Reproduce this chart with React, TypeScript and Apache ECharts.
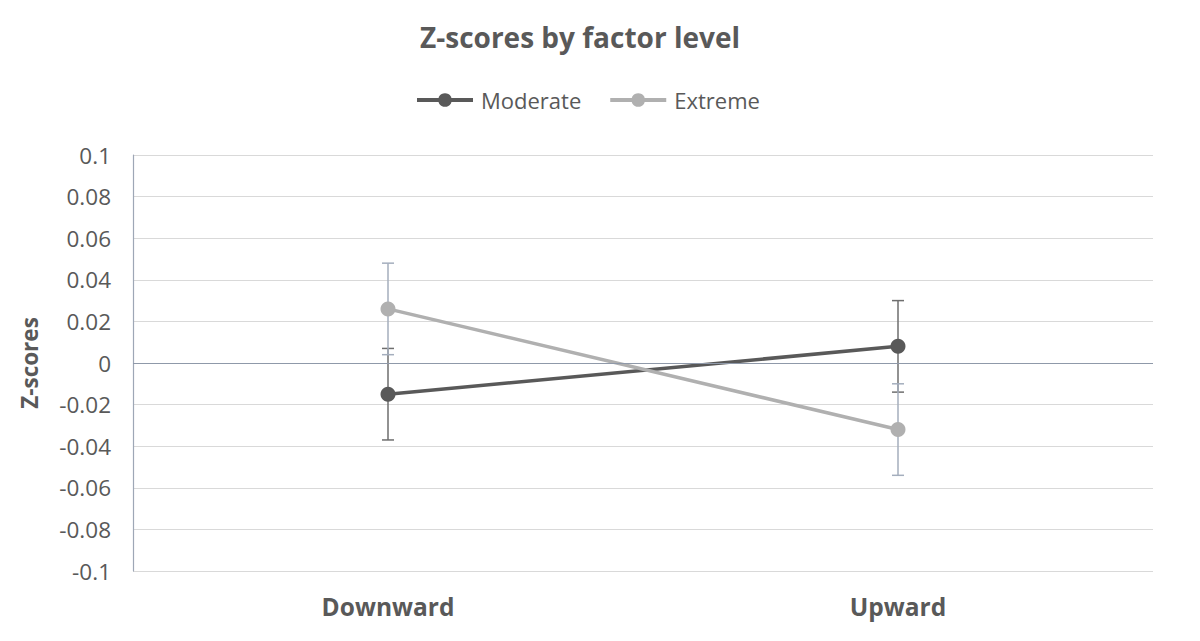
import React, { useEffect, useRef } from "react";
import * as echarts from "echarts";

const categories = ["Downward", "Upward"];
const moderate = [-0.015, 0.008];
const moderateErr = [0.022, 0.022];
const extreme = [0.026, -0.032];
const extremeErr = [0.022, 0.022];
const yTicks = { min: -0.1, max: 0.1, interval: 0.02 };

const FONT = "'Open Sans', Lato, sans-serif";
const TEXT = "#595959";

function errorSeries(name: string, means: number[], errs: number[], color: string) {
  return {
    type: "custom",
    name: name + " err",
    silent: true,
    z: 1,
    data: means.map((m, i) => [i, m - errs[i], m + errs[i]]),
    renderItem: (params: any, api: any) => {
      const x = api.value(0);
      const lo = api.coord([x, api.value(1)]);
      const hi = api.coord([x, api.value(2)]);
      const cap = 6;
      const style = { stroke: color, lineWidth: 1.5 };
      return {
        type: "group",
        children: [
          { type: "line", shape: { x1: lo[0], y1: lo[1], x2: hi[0], y2: hi[1] }, style },
          { type: "line", shape: { x1: lo[0] - cap, y1: lo[1], x2: lo[0] + cap, y2: lo[1] }, style },
          { type: "line", shape: { x1: hi[0] - cap, y1: hi[1], x2: hi[0] + cap, y2: hi[1] }, style },
        ],
      };
    },
  };
}

export default function App() {
  const ref = useRef<HTMLDivElement>(null);
  useEffect(() => {
    if (!ref.current) return;
    const chart = echarts.init(ref.current, undefined, { renderer: "svg" });
    chart.setOption({
      animation: false,
      textStyle: { fontFamily: FONT },
      graphic: [
        {
          type: "text",
          x: 572,
          y: 15,
          style: {
            text: "Z-scores by factor level",
            fontFamily: FONT,
            fontSize: 28,
            fontWeight: "bold",
            fill: TEXT,
            textAlign: "center",
          },
        },
      ],
      legend: {
        top: 76,
        left: 402,
        itemWidth: 56,
        itemHeight: 17,
        itemGap: 27,
        textStyle: { fontSize: 22, color: TEXT, fontFamily: FONT, padding: [0, 0, 0, 3] },
        lineStyle: { width: 4 },
        data: ["Moderate", "Extreme"],
      },
      grid: { left: 125, right: 39, top: 147, bottom: 62 },
      xAxis: {
        type: "category",
        data: categories,
        boundaryGap: true,
        axisLine: { show: false },
        axisTick: { show: false },
        axisLabel: { fontSize: 24.5, fontWeight: "bold", color: TEXT, margin: 23, fontFamily: FONT },
      },
      yAxis: {
        type: "value",
        min: yTicks.min,
        max: yTicks.max,
        interval: yTicks.interval,
        name: "Z-scores",
        nameLocation: "middle",
        nameGap: 92,
        nameTextStyle: { fontSize: 22.5, fontWeight: "bold", color: TEXT, fontFamily: FONT },
        axisLine: { show: true, lineStyle: { color: "#9ea7b6", width: 1.2 } },
        axisTick: { show: false },
        axisLabel: {
          fontSize: 22.5,
          color: TEXT,
          margin: 22,
          fontFamily: FONT,
          formatter: (v: number) => String(Math.round(v * 100) / 100),
        },
        splitLine: { lineStyle: { color: "#d9d9d9", width: 1.2 } },
      },
      series: [
        errorSeries("Moderate", moderate, moderateErr, "#6e6e6e"),
        errorSeries("Extreme", extreme, extremeErr, "#a4aebd"),
        {
          name: "Moderate",
          type: "line",
          data: moderate,
          z: 3,
          symbol: "circle",
          symbolSize: 15,
          lineStyle: { color: "#595959", width: 3.5 },
          itemStyle: { color: "#595959" },
          markLine: {
            silent: true,
            symbol: "none",
            label: { show: false },
            lineStyle: { color: "#8f99a9", width: 1.2, type: "solid" },
            data: [{ yAxis: 0 }],
          },
        },
        {
          name: "Extreme",
          type: "line",
          data: extreme,
          z: 3,
          symbol: "circle",
          symbolSize: 15,
          lineStyle: { color: "#b0b0b0", width: 3.5 },
          itemStyle: { color: "#b0b0b0" },
        },
      ],
    });
    return () => chart.dispose();
  }, []);
  return <div ref={ref} style={{ width: "100%", height: 625 }} />;
}
